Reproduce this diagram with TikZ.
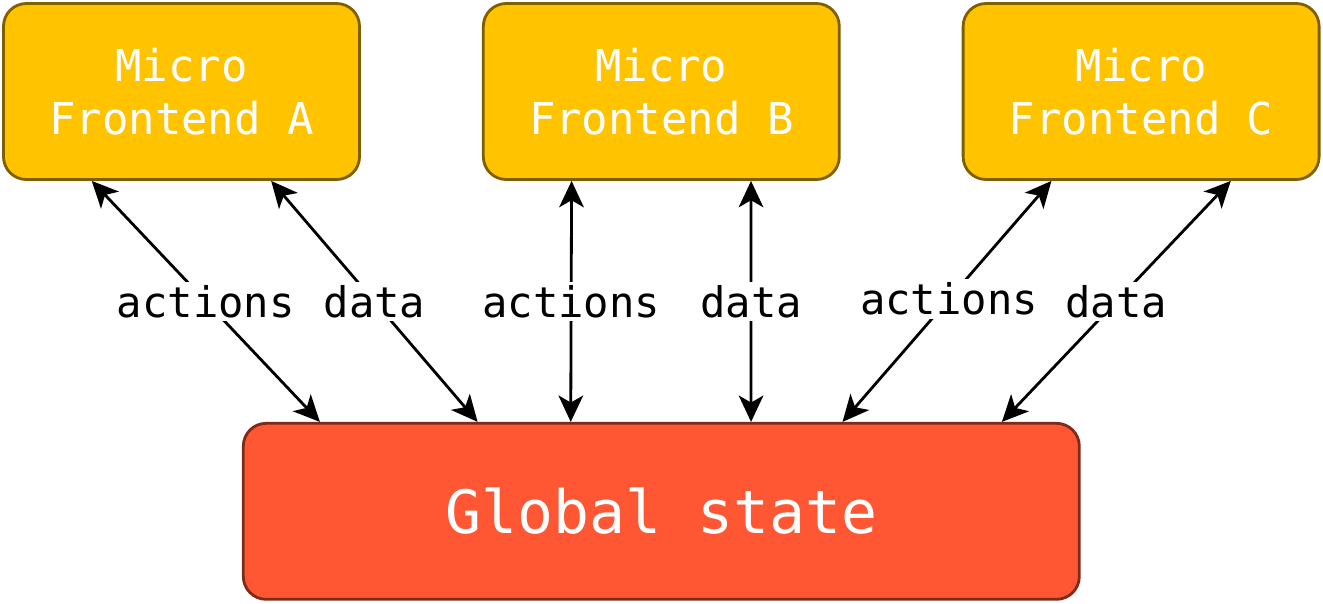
\documentclass[tikz,border=0pt]{standalone}
\usepackage{fontspec}
\setmonofont{DejaVu Sans Mono}
\usepackage{xcolor}
\usepackage{tikz}
\usetikzlibrary{arrows.meta, positioning, calc}

\definecolor{mfyellow}{HTML}{FFC300}
\definecolor{mfyellowdark}{HTML}{7F6000}
\definecolor{gsred}{HTML}{FF5733}
\definecolor{gsreddark}{HTML}{7F2B1A}

\begin{document}
\begin{tikzpicture}[
  node distance=2.42cm and 2.42cm,
  mfbox/.style={rectangle, draw=mfyellowdark, fill=mfyellow, line width=1.6pt,
                rounded corners=13pt, minimum width=7.12cm, minimum height=3.52cm,
                align=center, text=white, font=\ttfamily\fontsize{25}{30}\selectfont},
  statebox/.style={rectangle, draw=gsreddark, fill=gsred, line width=1.6pt,
                   rounded corners=13pt, minimum width=16.72cm, minimum height=3.52cm,
                   align=center, text=white, font=\ttfamily\fontsize{34}{40}\selectfont},
  link/.style={{Stealth[length=15pt,width=14pt,inset=4pt]}-{Stealth[length=15pt,width=14pt,inset=4pt]},
               line width=1.6pt, black},
  lbl/.style={fill=white, inner sep=2pt, font=\ttfamily\fontsize{24}{28}\selectfont}
]
\useasboundingbox (0,0) rectangle (26.46,-12.06);
\node (fa) [mfbox] at (3.63,-1.83) {Micro\\Frontend A};
\node (fb) [mfbox, right=of fa]    {Micro\\Frontend B};
\node (fc) [mfbox, right=of fb]    {Micro\\Frontend C};
\node (gs) [statebox, below=4.82cm of fb] {Global state};
% frontend A
\draw [link] ($(fa.south west)!0.25!(fa.south east)$) -- node[lbl, pos=0.5]{actions} ($(gs.north west)!0.093!(gs.north east)$);
\draw [link] ($(fa.south west)!0.75!(fa.south east)$) -- node[lbl, pos=0.5]{data} ($(gs.north west)!0.281!(gs.north east)$);
% frontend B
\draw [link] ($(fb.south west)!0.25!(fb.south east)$) -- node[lbl, pos=0.5]{actions} ($(gs.north west)!0.392!(gs.north east)$);
\draw [link] ($(fb.south west)!0.75!(fb.south east)$) -- node[lbl, pos=0.5]{data} ($(gs.north west)!0.607!(gs.north east)$);
% frontend C
\draw [link] ($(fc.south west)!0.25!(fc.south east)$) -- node[lbl, pos=0.49]{actions} ($(gs.north west)!0.716!(gs.north east)$);
\draw [link] ($(fc.south west)!0.75!(fc.south east)$) -- node[lbl, pos=0.5]{data} ($(gs.north west)!0.906!(gs.north east)$);
\end{tikzpicture}
\end{document}
